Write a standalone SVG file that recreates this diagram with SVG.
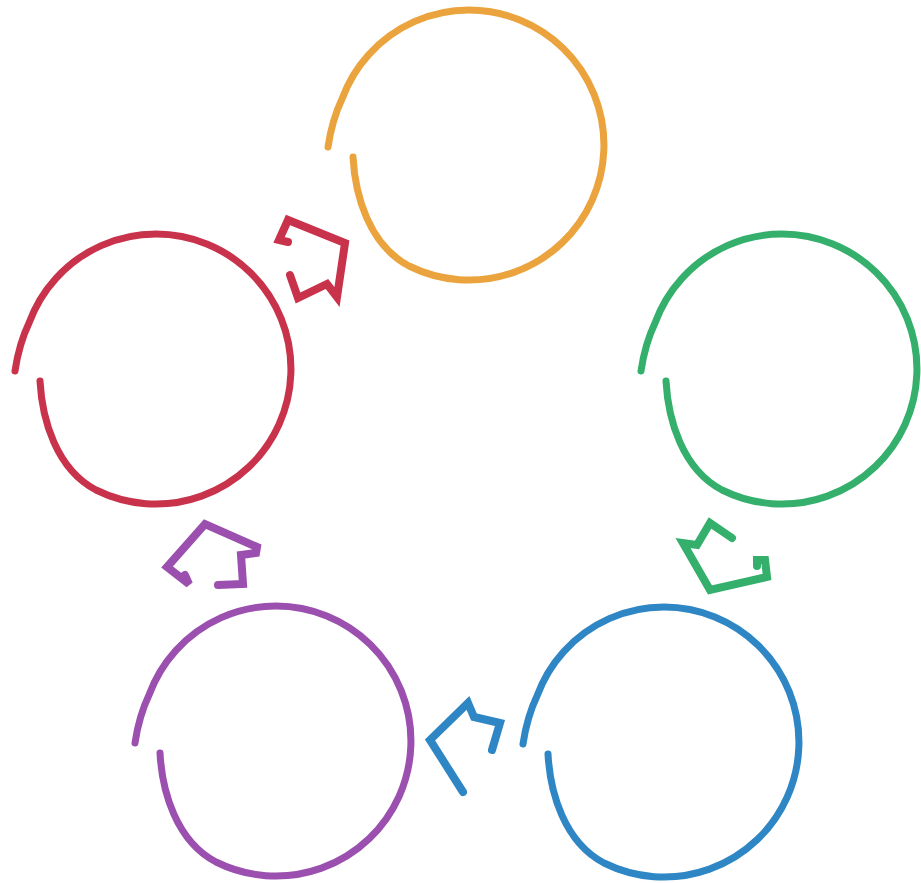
<svg xmlns="http://www.w3.org/2000/svg" xmlns:xlink="http://www.w3.org/1999/xlink" width="921" height="883" viewBox="0 0 921 883">
<style>
.ring{fill:none;stroke-width:7;stroke-linecap:round;stroke-linejoin:round}
.arr{fill:none;stroke-width:8;stroke-linecap:round;stroke-linejoin:miter}
</style>
<defs>
<path id="ring" d="M -141,2 Q -137,-25 -126.9,-46.2 A 135 135 0 1 1 -60,121 C -100,100 -114,50 -116,12"/>
</defs>
<rect width="921" height="883" fill="#ffffff"/>
<g id="node-orange"><use xlink:href="#ring" href="#ring" class="ring" stroke="#EBA43D" transform="translate(469,145)"/></g>
<g id="node-green"><use xlink:href="#ring" href="#ring" class="ring" stroke="#34B06C" transform="translate(782,369)"/></g>
<g id="node-blue"><use xlink:href="#ring" href="#ring" class="ring" stroke="#2F86C4" transform="translate(664,742)"/></g>
<g id="node-purple"><use xlink:href="#ring" href="#ring" class="ring" stroke="#9B4FAE" transform="translate(276,741)"/></g>
<g id="node-red"><use xlink:href="#ring" href="#ring" class="ring" stroke="#C9324B" transform="translate(156,369)"/></g>
<g id="connectors">
<polyline class="arr" stroke="#C9324B" points="288,242 279,240 288,220 345,243 337,297 327,284 298,298 290,275"/>
<polyline class="arr" stroke="#34B06C" points="732,538 710,523 697,545 683,543 710,590 767,577 765,560 757,560 757,566"/>
<polyline class="arr" stroke="#2F86C4" points="463,792 430,740 468,703 474,717 500,723 492,750"/>
<polyline class="arr" stroke="#9B4FAE" points="185,575 189,584 167,567 205,524 257,547 256,553 241,555 243,584 218,585"/>
</g>
</svg>
